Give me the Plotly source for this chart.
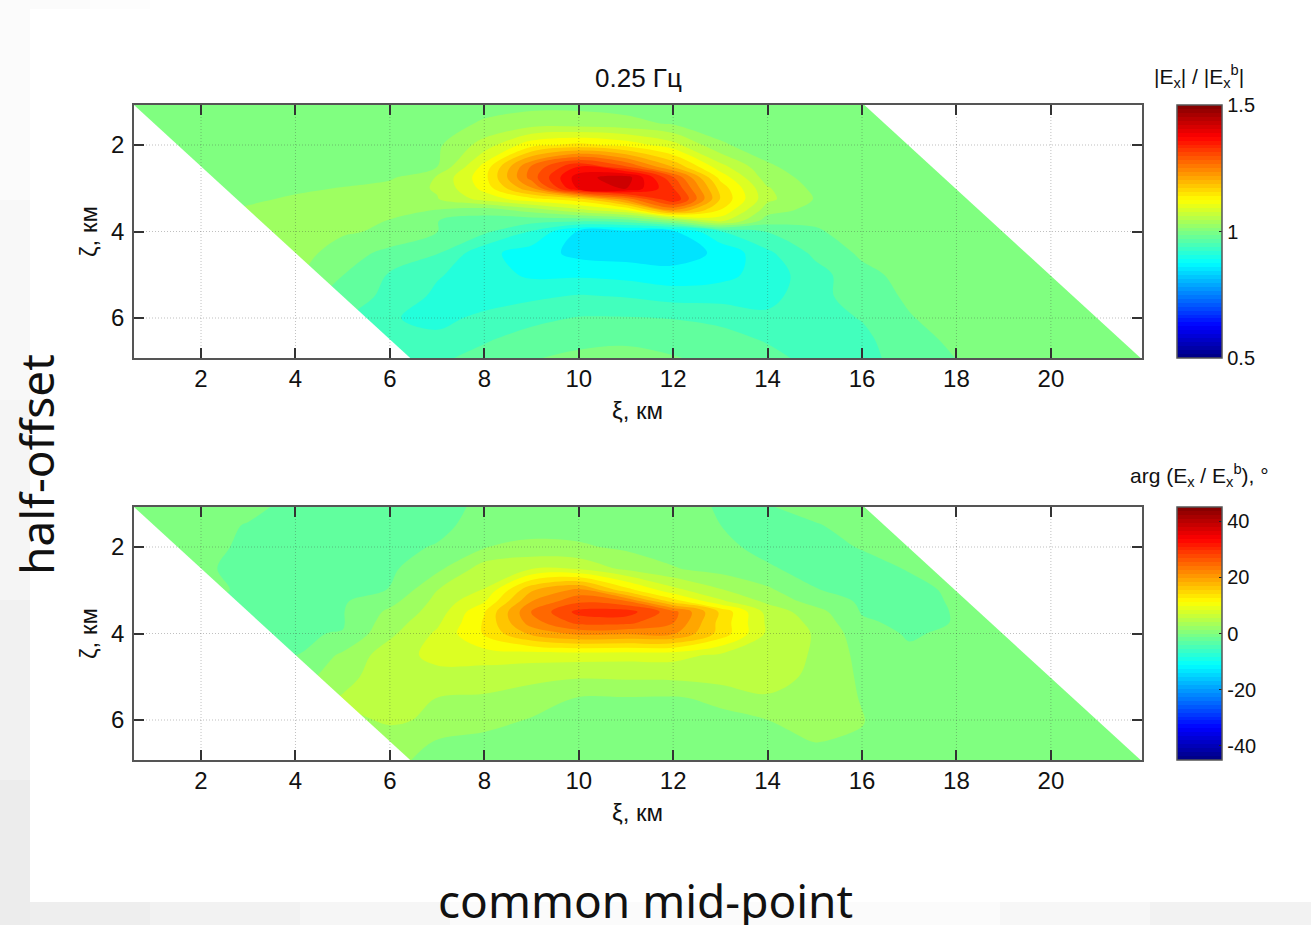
import plotly.graph_objects as go

W, H = 1311, 925

xi_km = list(range(0, 23))
zeta_top = [1, 1.5, 2, 2.5, 2.75, 3, 3.25, 3.5, 3.75, 4, 4.5, 5, 5.5, 6, 6.5, 7]
amp_rows = [
 [1,1,1,1,1,1,1,1,1.0,1.005,1.005,1,1,1,1,1,1,1,1,1,1,1,1],
 [1,1,1,1,1,1,1,1.0,1.02,1.03,1.03,1.025,1.012,1,1,1,1,1,1,1,1,1,1],
 [1,1,1,1,1,1,1,1.01,1.06,1.13,1.15,1.13,1.09,1.02,1,1,1,1,1,1,1,1,1],
 [1,1,1,1,1,1,1.005,1.015,1.12,1.27,1.36,1.30,1.20,1.09,1.02,1,1,1,1,1,1,1,1],
 [1,1,1,1,1,1.005,1.01,1.05,1.13,1.28,1.41,1.44,1.30,1.13,1.03,1.005,1,1,1,1,1,1,1],
 [1,1,1,1,1.01,1.017,1.03,1.05,1.12,1.23,1.40,1.425,1.33,1.16,1.05,1.008,1,1,1,1,1,1,1],
 [1,1,1,1.01,1.02,1.02,1.03,1.045,1.09,1.13,1.16,1.25,1.36,1.17,1.055,1.014,1,1,1,1,1,1,1],
 [1.01,1.01,1.01,1.02,1.03,1.03,1.025,1.015,1.0,1.03,1.07,1.11,1.24,1.14,1.03,1.005,1,1,1,1,1,1,1],
 [1.02,1.02,1.02,1.03,1.03,1.02,1.015,.985,.97,.965,.96,.97,1.02,1.09,1.0,.99,1,1,1,1,1,1,1],
 [1.03,1.03,1.03,1.03,1.03,1.02,1.01,.985,.96,.92,.855,.85,.855,.92,.955,.98,1.0,1,1,1,1,1,1],
 [1.03,1.03,1.03,1.03,1.03,1.0,.975,.955,.90,.875,.85,.845,.845,.865,.915,.96,.99,1,1,1,1,1,1],
 [1.02,1.02,1.02,1.02,1.02,.985,.95,.925,.905,.885,.885,.88,.87,.88,.905,.94,.975,.995,1,1,1,1,1],
 [1,1,1,1,1,.97,.945,.915,.905,.915,.925,.92,.91,.91,.91,.945,.965,.99,1,1,1,1,1],
 [.98,.98,.98,.98,.98,.96,.925,.912,.93,.945,.955,.955,.952,.945,.93,.94,.955,.982,1,1,1,1,1],
 [.97,.97,.97,.97,.97,.97,.945,.93,.95,.965,.975,.98,.97,.965,.95,.94,.945,.975,.99,1,1,1,1],
 [.96,.96,.96,.96,.96,.96,.955,.95,.965,.985,.995,.995,.99,.975,.965,.945,.94,.97,.984,1,1,1,1],
]

zeta_bottom = [1, 1.5, 2, 2.5, 3, 3.25, 3.5, 3.75, 4, 4.5, 5, 5.5, 6, 6.5, 7]
phase_rows = [
 [-.5,-.5,-.5,-.9,-1.8,-2,-2,-1.8,-1.2,-.5,-.2,0,-.7,-1.6,-1.4,-.9,-.5,0,0,0,0,0,0],
 [-.5,-.5,-.9,-1.5,-2.2,-2.3,-2,-1.8,-.8,.2,.2,0,-.4,-1.4,-2,-1.5,-1,-.5,0,0,0,0,0],
 [-.8,-.8,-1.1,-1.6,-2,-2,-1.8,-1.3,1.3,2.1,1.8,.9,.2,-1,-1.9,-2,-1.3,-.7,-.2,0,0,0,0],
 [-1,-1,-1.2,-1.8,-1.9,-1.9,-1.9,.7,5.6,6.8,6.5,3.6,1.6,.4,-1.2,-2,-2,-1.3,-.7,-.2,0,0,0],
 [-.8,-.8,-.8,-1.8,-2,-1.8,-1.35,4.2,7.2,18,22,14,8,4.5,2,-1.3,-2,-1.9,-1.1,-.4,-.1,0,0],
 [-1.6,-1.6,-1.6,-1.8,-2,-1.7,.4,5,9.5,21,26,24,14,7.5,3.5,.2,-1.8,-2,-1.2,-.4,-.1,0,0],
 [-1.8,-1.8,-1.8,-1.8,-1.8,-1.55,2,5.5,12.5,24,30.5,31,25,15,6,2.6,-1.6,-2,-1.3,-.4,-.1,0,0],
 [-1.7,-1.7,-1.7,-1.7,-1.7,-1.6,2.8,6.5,13,22.5,27.5,27.5,24,14.5,6.5,3.5,-1,-2,-1.3,-.3,0,0,0],
 [-1.6,-1.6,-1.6,-1.6,-1.6,-1.3,3.6,7.5,13,19,22,21.5,21.5,14.5,6.5,4,-.2,-1.7,-.9,-.2,0,0,0],
 [-1.45,-1.45,-1.45,-1.45,-1.45,1.9,5.8,7.8,8.5,8.2,8.2,8,8,6.5,6.5,3.8,.6,-.9,-.2,0,0,0,0],
 [0,0,0,0,0,3.2,6,6.2,5.4,5,4.5,4.7,4.8,5.5,5.8,3.4,1,0,0,0,0,0,0],
 [2,2,2,2,2,4.5,4.5,4.2,3.9,2.8,1.2,1.2,1.1,2,3.8,2.6,1.3,0,0,0,0,0,0],
 [2.5,2.5,2.5,2.5,2.5,3.5,4.6,3.8,2.4,1.2,.6,.3,.3,.7,1.4,2.6,1.5,0,0,0,0,0,0],
 [2,2,2,2,2,3,3,1.2,.6,.2,0,0,0,.2,.7,1.45,1.2,0,0,0,0,0,0],
 [1.5,1.5,1.5,1.5,1.5,1.8,1.8,.8,.2,0,0,0,0,0,0,0,0,0,0,0,0,0,0],
]

xi_ticks = [2, 4, 6, 8, 10, 12, 14, 16, 18, 20]
zeta_ticks = [2, 4, 6]
amp_ticks = [0.5, 1, 1.5]
phase_ticks = [-40, -20, 0, 20, 40]

XR = [0.58, 21.93]
YR = [6.925, 1.075]
LEFT_SHIFT = 0.495     # left slanted edge: xi = zeta - shift
RIGHT_SHIFT = 14.975   # right slanted edge: xi = zeta + shift

KNOTS = [(0, (0, 0, 128)), (.125, (0, 0, 255)), (.375, (0, 255, 255)),
         (.625, (255, 255, 0)), (.875, (255, 0, 0)), (1, (128, 0, 0))]


def jet(t):
    for (a, ca), (b, cb) in zip(KNOTS, KNOTS[1:]):
        if t <= b:
            f = (t - a) / (b - a)
            return "rgb(%d,%d,%d)" % tuple(round(p + (q - p) * f) for p, q in zip(ca, cb))
    return "rgb(128,0,0)"


N = 32
# contour colours: plotly spreads the scale over one extra half-band on each side
band_scale = [[(k + .5) / (N + 1), jet(k / N)] for k in range(N + 1)]
band_scale = [[0, jet(0)]] + band_scale + [[1, jet(1)]]
# colour bar: stepped
BAR_STEPS = 64
bar_scale = []
for k in range(BAR_STEPS):
    c = jet((k + .5) / BAR_STEPS)
    bar_scale += [[k / BAR_STEPS, c], [(k + 1) / BAR_STEPS, c]]

FONT = "Liberation Sans, Arial, sans-serif"
TEXT = "#111111"
fig = go.Figure()


def dom(top, bottom):
    return [1 - bottom / H, 1 - top / H]


def panel(idx, rows, zeta, lo, hi, ticks, top, bottom):
    xa, ya = ("x", "y") if idx == 1 else ("x2", "y2")
    step = (hi - lo) / N
    fig.add_trace(go.Contour(
        x=xi_km, y=zeta, z=rows, xaxis=xa, yaxis=ya, colorscale=band_scale,
        showscale=False, autocontour=False, hoverinfo="skip",
        contours=dict(coloring="fill", start=lo - step / 2, end=hi + step / 2, size=step, showlines=False),
        line=dict(width=0, smoothing=1)))
    # white corners of the parallelogram
    y0, y1 = YR[1], YR[0]
    fig.add_trace(go.Scatter(
        x=[XR[0] - 1, y0 - LEFT_SHIFT - 1, y1 - LEFT_SHIFT + 1, XR[0] - 1],
        y=[y0 - 1, y0 - 1, y1 + 1, y1 + 1], xaxis=xa, yaxis=ya, mode="lines", fill="toself",
        fillcolor="white", line=dict(width=0), hoverinfo="skip", showlegend=False))
    fig.add_trace(go.Scatter(
        x=[y0 + RIGHT_SHIFT - 1, XR[1] + 1, XR[1] + 1, y1 + RIGHT_SHIFT + 1],
        y=[y0 - 1, y0 - 1, y1 + 1, y1 + 1], xaxis=xa, yaxis=ya, mode="lines", fill="toself",
        fillcolor="white", line=dict(width=0), hoverinfo="skip", showlegend=False))
    # invisible point that carries the colour bar
    fig.add_trace(go.Scatter(
        x=[xi_ticks[0]], y=[zeta_ticks[0]], xaxis=xa, yaxis=ya, mode="markers", hoverinfo="skip",
        showlegend=False, opacity=0,
        marker=dict(size=1, color=[(lo + hi) / 2], cmin=lo, cmax=hi, colorscale=bar_scale, showscale=True,
                    colorbar=dict(x=1177 / W, xanchor="left", xpad=0, y=1 - top / H, yanchor="top", ypad=0,
                                  thickness=45, thicknessmode="pixels", len=bottom - top, lenmode="pixels",
                                  tickmode="array", tickvals=ticks, ticktext=[str(t) for t in ticks],
                                  ticks="inside", ticklen=3, tickwidth=1,
                                  tickcolor="#222222", outlinecolor="#555555", outlinewidth=1.5,
                                  tickfont=dict(family=FONT, size=20, color=TEXT), ticklabelposition="outside"))))
    axis = dict(showgrid=False, zeroline=False, showline=True, linecolor="#555555", linewidth=1.5,
                mirror="ticks", ticks="inside", ticklen=10, tickwidth=1.5, tickcolor="#333333",
                tickfont=dict(family=FONT, size=24, color=TEXT))
    fig.update_layout({
        ("xaxis" if idx == 1 else "xaxis2"): dict(axis, domain=[134 / W, 1142 / W], range=XR, tickmode="array",
                                                  tickvals=xi_ticks, anchor=ya, ticklabelstandoff=-2),
        ("yaxis" if idx == 1 else "yaxis2"): dict(axis, domain=dom(top, bottom), range=YR, tickmode="array",
                                                  tickvals=zeta_ticks, anchor=xa, ticklabelstandoff=3),
    })
    grid = dict(color="rgba(60,60,60,0.32)", width=1, dash="1px,2px")
    for t in xi_ticks:
        fig.add_shape(type="line", xref=xa, yref=ya, x0=t, x1=t, y0=YR[1], y1=YR[0], line=grid, layer="above")
    for t in zeta_ticks:
        fig.add_shape(type="line", xref=xa, yref=ya, x0=XR[0], x1=XR[1], y0=t, y1=t, line=grid, layer="above")


panel(1, amp_rows, zeta_top, 0.5, 1.5, amp_ticks, 105, 358)
panel(2, phase_rows, zeta_bottom, -45, 45, phase_ticks, 507, 760)


def label(text, x, y, size, angle=0, family=FONT):
    fig.add_annotation(text=text, x=x / W, y=1 - y / H, xref="paper", yref="paper", showarrow=False,
                       textangle=angle, font=dict(family=family, size=size, color=TEXT),
                       xanchor="center", yanchor="middle")


label("0.25 Гц", 638, 78, 26)
label("ξ, км", 637, 410, 24)
label("ξ, км", 637, 812, 24)
label("ζ, км", 88, 232, 24, -90)
label("ζ, км", 88, 634, 24, -90)
label("|E<sub>x</sub>| / |E<sub>x</sub><sup>b</sup>|", 1199, 76, 21)
label("arg (E<sub>x</sub> / E<sub>x</sub><sup>b</sup>), °", 1199, 476, 21)
label("half-offset", 36, 465, 46, -90, "Noto Sans, sans-serif")
label("common mid-point", 645, 900, 46, 0, "Noto Sans, sans-serif")


# slide backdrop: pale grey strips on the left, top and bottom
def strip(x0, x1, y0, y1, col):
    fig.add_shape(type="rect", xref="paper", yref="paper", x0=x0 / W, x1=x1 / W, y0=1 - y1 / H, y1=1 - y0 / H,
                  line=dict(width=0), fillcolor=col, layer="below")


for y0, y1, col in [(0, 200, "#fbfbfb"), (200, 400, "#f8f8f8"), (400, 600, "#f5f5f5"), (600, 780, "#f1f1f1"),
                    (780, H, "#ececec")]:
    strip(0, 30, y0, y1, col)
for x0, x1, col in [(30, 90, "#fbfbfb"), (90, 150, "#fdfdfd")]:
    strip(x0, x1, 0, 9, col)
for x0, x1, col in [(30, 150, "#eeeeee"), (150, 300, "#f2f2f2"), (300, 450, "#f6f6f6"), (450, 1000, "#fbfbfb"),
                    (1000, 1150, "#f7f7f7"), (1150, W, "#f2f2f2")]:
    strip(x0, x1, 902, H, col)

fig.update_layout(width=W, height=H, margin=dict(l=0, r=0, t=0, b=0), paper_bgcolor="white",
                  plot_bgcolor="white", showlegend=False)
fig.write_html("out.html", config={"displayModeBar": False},
               post_script="document.body.style.margin='0';document.body.style.overflow='hidden';")
